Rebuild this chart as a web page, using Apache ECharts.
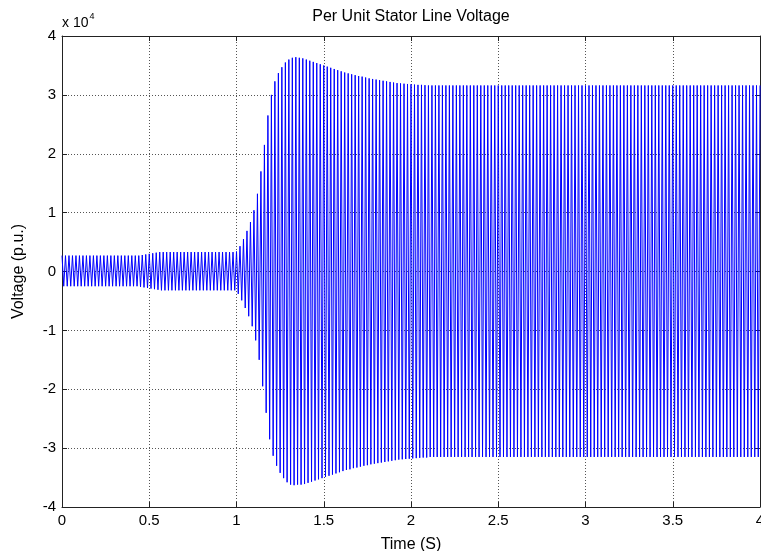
<!DOCTYPE html>
<html>
<head>
<meta charset="utf-8">
<script src="https://cdn.jsdelivr.net/npm/echarts@6/dist/echarts.min.js"></script>
<style>
html,body{margin:0;padding:0;background:#fff;}
#chart{width:761px;height:551px;}
</style>
</head>
<body>
<div id="chart"></div>
<script>
// ---- Data (values in volts-scale units; axis shows x 10^4) ----
const chartTitle = "Per Unit Stator Line Voltage";
const xAxisName = "Time (S)";
const yAxisName = "Voltage (p.u.)";
const xTicks = [0, 0.5, 1, 1.5, 2, 2.5, 3, 3.5, 4];
const yTicks = [-40000, -30000, -20000, -10000, 0, 10000, 20000, 30000, 40000];
const yScaleExponent = 4;
const sampleStartTime = 0;
const sampleStep = 0.01; // one sample per half-cycle peak (50 Hz)
// Peak values, one per half cycle, t = 0.00 .. 4.00 s
const statorVoltagePeaks = [
  // 0.0
  2700,-2500,2700,-2500,2700,-2500,2700,-2500,2700,-2500,
  // 0.1
  2700,-2500,2700,-2500,2700,-2500,2700,-2500,2700,-2500,
  // 0.2
  2700,-2500,2700,-2500,2700,-2500,2700,-2500,2700,-2500,
  // 0.3
  2700,-2500,2700,-2500,2700,-2500,2700,-2500,2700,-2500,
  // 0.4
  2700,-2500,2700,-2500,2700,-2600,2800,-2700,2900,-2800,
  // 0.5
  3000,-2900,3100,-3000,3200,-3100,3300,-3200,3300,-3200,
  // 0.6
  3300,-3200,3300,-3200,3300,-3200,3300,-3200,3300,-3200,
  // 0.7
  3300,-3200,3300,-3200,3300,-3200,3300,-3200,3300,-3200,
  // 0.8
  3300,-3200,3300,-3200,3300,-3200,3300,-3200,3300,-3200,
  // 0.9
  3300,-3200,3300,-3200,3300,-3200,3300,-3200,3300,-3200,
  // 1.0
  3400,-3800,4300,-4900,5500,-6200,6900,-7600,8400,-9300,
  // 1.1
  10400,-11700,13200,-15000,17000,-19500,21500,-24000,26500,-28500,
  // 1.2
  30000,-31300,32300,-33000,33700,-34200,34700,-35100,35500,-35800,
  // 1.3
  36000,-36200,36300,-36300,36400,-36200,36300,-36200,36200,-36100,
  // 1.4
  36000,-35900,35800,-35700,35600,-35500,35400,-35300,35200,-35100,
  // 1.5
  35000,-34900,34800,-34700,34600,-34500,34400,-34300,34200,-34100,
  // 1.6
  34000,-33900,33800,-33700,33650,-33600,33500,-33400,33350,-33300,
  // 1.7
  33200,-33150,33100,-33000,32950,-32900,32800,-32750,32700,-32650,
  // 1.8
  32600,-32550,32500,-32450,32400,-32350,32300,-32250,32200,-32150,
  // 1.9
  32100,-32050,32000,-31950,31950,-31900,31900,-31850,31850,-31800,
  // 2.0
  31800,-31750,31750,-31700,31700,-31650,31700,-31600,31650,-31600,
  // 2.1
  31600,-31500,31600,-31500,31600,-31500,31600,-31500,31600,-31500,
  // 2.2
  31600,-31500,31600,-31500,31600,-31500,31600,-31500,31600,-31500,
  // 2.3
  31600,-31500,31600,-31500,31600,-31500,31600,-31500,31600,-31500,
  // 2.4
  31600,-31500,31600,-31500,31600,-31500,31600,-31500,31600,-31500,
  // 2.5
  31600,-31500,31600,-31500,31600,-31500,31600,-31500,31600,-31500,
  // 2.6
  31600,-31500,31600,-31500,31600,-31500,31600,-31500,31600,-31500,
  // 2.7
  31600,-31500,31600,-31500,31600,-31500,31600,-31500,31600,-31500,
  // 2.8
  31600,-31500,31600,-31500,31600,-31500,31600,-31500,31600,-31500,
  // 2.9
  31600,-31500,31600,-31500,31600,-31500,31600,-31500,31600,-31500,
  // 3.0
  31600,-31500,31600,-31500,31600,-31500,31600,-31500,31600,-31500,
  // 3.1
  31600,-31500,31600,-31500,31600,-31500,31600,-31500,31600,-31500,
  // 3.2
  31600,-31500,31600,-31500,31600,-31500,31600,-31500,31600,-31500,
  // 3.3
  31600,-31500,31600,-31500,31600,-31500,31600,-31500,31600,-31500,
  // 3.4
  31600,-31500,31600,-31500,31600,-31500,31600,-31500,31600,-31500,
  // 3.5
  31600,-31500,31600,-31500,31600,-31500,31600,-31500,31600,-31500,
  // 3.6
  31600,-31500,31600,-31500,31600,-31500,31600,-31500,31600,-31500,
  // 3.7
  31600,-31500,31600,-31500,31600,-31500,31600,-31500,31600,-31500,
  // 3.8
  31600,-31500,31600,-31500,31600,-31500,31600,-31500,31600,-31500,
  // 3.9
  31600,-31500,31600,-31500,31600,-31500,31600,-31500,31600,-31500,
  // 4.0
  31600
];

// ---- Build chart ----
const seriesData = statorVoltagePeaks.map((v, i) => [+(sampleStartTime + i * sampleStep).toFixed(2), v]);
const FONT = "'Liberation Sans', Arial, Helvetica, sans-serif";
const scaleDiv = Math.pow(10, yScaleExponent);

const chart = echarts.init(document.getElementById('chart'), null, {renderer: 'canvas'});
const gridLine = {show: true, lineStyle: {color: '#555', type: [1, 2], width: 1}};
const axisLineStyle = {show: true, onZero: false, lineStyle: {color: '#222', width: 1}};
const tickIn = {show: true, inside: true, length: 5, lineStyle: {color: '#222'}};

chart.setOption({
  animation: false,
  backgroundColor: '#fff',
  grid: {left: 62, right: 1, top: 36, bottom: 44, show: false, outerBoundsMode: 'none', containLabel: false},
  graphic: [
    {type: 'text', x: 411, y: 17, style: {text: chartTitle, font: '16px ' + FONT, fill: '#000', textAlign: 'center', textVerticalAlign: 'middle'}},
    {type: 'text', left: 62, top: 12, style: {
      text: '{b|x 10}{s|' + yScaleExponent + '}',
      rich: {b: {fontSize: 14, fontFamily: FONT, color: '#000', verticalAlign: 'bottom', lineHeight: 18},
             s: {fontSize: 9, fontFamily: FONT, color: '#000', verticalAlign: 'top', lineHeight: 18, padding: [0, 0, 8, 1]}}
    }}
  ],
  xAxis: [{
    type: 'value', min: xTicks[0], max: xTicks[xTicks.length - 1], interval: 0.5,
    name: xAxisName, nameLocation: 'middle', nameGap: 30,
    nameTextStyle: {fontFamily: FONT, fontSize: 16, color: '#000'},
    axisLine: axisLineStyle, axisTick: tickIn, splitLine: gridLine,
    axisLabel: {fontFamily: FONT, fontSize: 15, color: '#000', margin: 6,
      formatter: v => String(v)}
  }, {
    type: 'value', position: 'top', min: xTicks[0], max: xTicks[xTicks.length - 1], interval: 0.5,
    axisLine: axisLineStyle, axisTick: tickIn, splitLine: {show: false}, axisLabel: {show: false}
  }],
  yAxis: [{
    type: 'value', min: yTicks[0], max: yTicks[yTicks.length - 1], interval: 10000,
    name: yAxisName, nameLocation: 'middle', nameGap: 35,
    nameTextStyle: {fontFamily: FONT, fontSize: 16, color: '#000'},
    axisLine: axisLineStyle, axisTick: tickIn, splitLine: gridLine,
    axisLabel: {fontFamily: FONT, fontSize: 15, color: '#000', margin: 6,
      formatter: v => String(v / scaleDiv)}
  }, {
    type: 'value', position: 'right', min: yTicks[0], max: yTicks[yTicks.length - 1], interval: 10000,
    axisLine: axisLineStyle, axisTick: tickIn, splitLine: {show: false}, axisLabel: {show: false}
  }],
  series: [{
    type: 'line', data: seriesData, xAxisIndex: 0, yAxisIndex: 0,
    showSymbol: false, symbol: 'none', sampling: null,
    lineStyle: {color: '#0000ff', width: 1}, z: 5
  }]
});
</script>
</body>
</html>
